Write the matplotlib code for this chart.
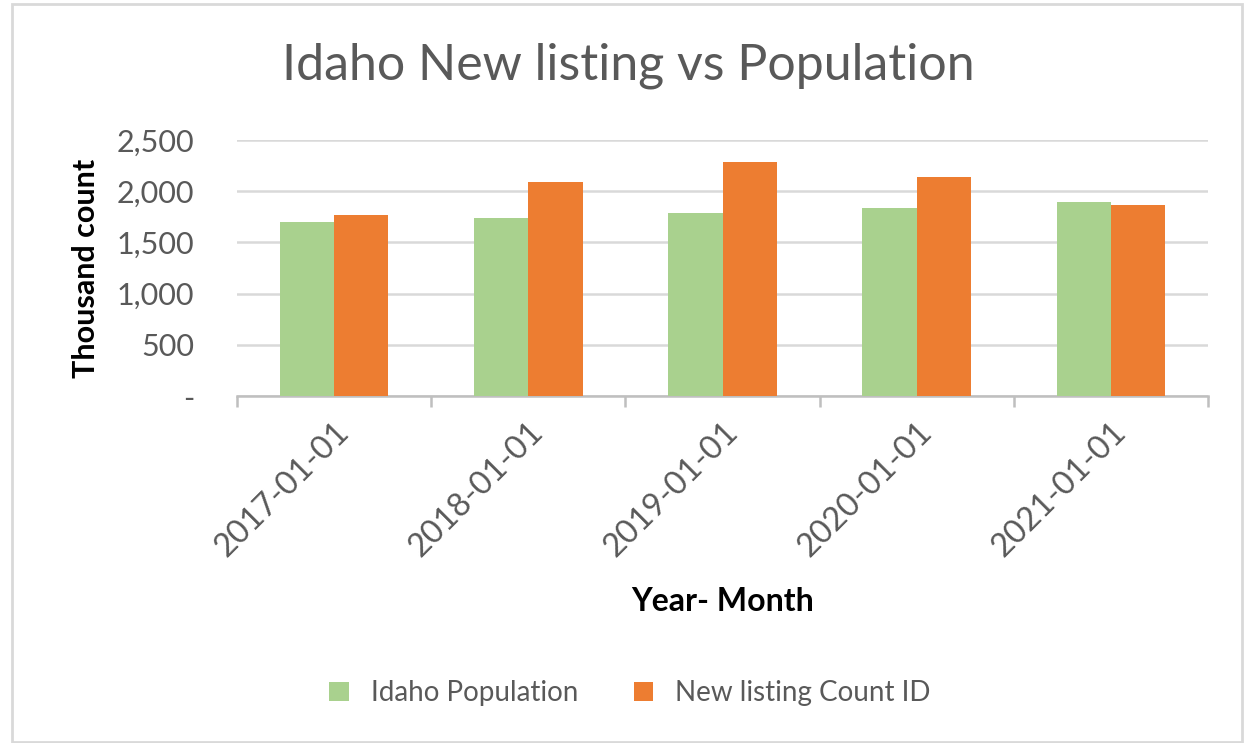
import matplotlib
matplotlib.use("Agg")
import matplotlib.pyplot as plt
import numpy as np
from matplotlib.patches import Rectangle
from matplotlib.ticker import FuncFormatter

# data (thousands)
fechas = ["2017-01-01", "2018-01-01", "2019-01-01", "2020-01-01", "2021-01-01"]
poblacion = [1702, 1735, 1784, 1833, 1898]
listados = [1768, 2087, 2282, 2139, 1865]
series = ["Idaho Population", "New listing Count ID"]

plt.rcParams['font.family'] = ['Lato', 'DejaVu Sans']
gris = "#595959"

fig = plt.figure(figsize=(12.44, 7.43), dpi=100)
fig.patches.append(Rectangle((12/1244, 1/743), 1230/1244, 738/743, transform=fig.transFigure,
                             fill=False, edgecolor="#d9d9d9", linewidth=2))
ax = fig.add_axes([237/1244, 1-396/743, 971/1244, 256/743])

x = np.arange(len(fechas))
w = 0.28
ax.bar(x - w/2, poblacion, w, color="#A9D18E", label=series[0], zorder=3)
ax.bar(x + w/2, listados, w, color="#ED7D31", label=series[1], zorder=3)

ax.set_xlim(-0.5, len(fechas) - 0.5)
ax.set_ylim(0, 2500)
ax.set_yticks(range(0, 2501, 500))
ax.yaxis.set_major_formatter(FuncFormatter(lambda v, p: "-" if v == 0 else f"{int(v):,}"))
ax.grid(axis="y", color="#d9d9d9", linewidth=1.8, zorder=0)

for s in ["top", "right", "left"]:
    ax.spines[s].set_visible(False)
ax.spines["bottom"].set_color("#bfbfbf")
ax.spines["bottom"].set_linewidth(1.8)

ax.set_xticks(x)
ax.set_xticklabels(fechas, rotation=45, ha="right", rotation_mode="anchor",
                   fontsize=23.5, color=gris)
ax.tick_params(axis="x", which="major", length=0, pad=15)
ax.set_xticks(np.arange(-0.5, len(fechas), 1), minor=True)
ax.tick_params(axis="x", which="minor", length=8, width=1.8, color="#bfbfbf")
ax.tick_params(axis="y", length=0, labelsize=22, labelcolor=gris, pad=31)

ax.set_ylabel("Thousand count", fontsize=22, fontweight="bold", color="black", labelpad=12)
ax.set_xlabel("Year- Month", fontsize=23, fontweight="bold", color="black", labelpad=18)

fig.text(628/1244, 1-66/743, "Idaho New listing vs Population", fontsize=36,
         color=gris, ha="center", va="center")

fig.legend(loc="center", bbox_to_anchor=(630/1244, 1-693/743), ncol=2, frameon=False,
           fontsize=20, labelcolor=gris, handlelength=0.7, handleheight=0.7,
           columnspacing=2.0, handletextpad=0.8)

plt.savefig("out.png", dpi=100)
plt.close()
